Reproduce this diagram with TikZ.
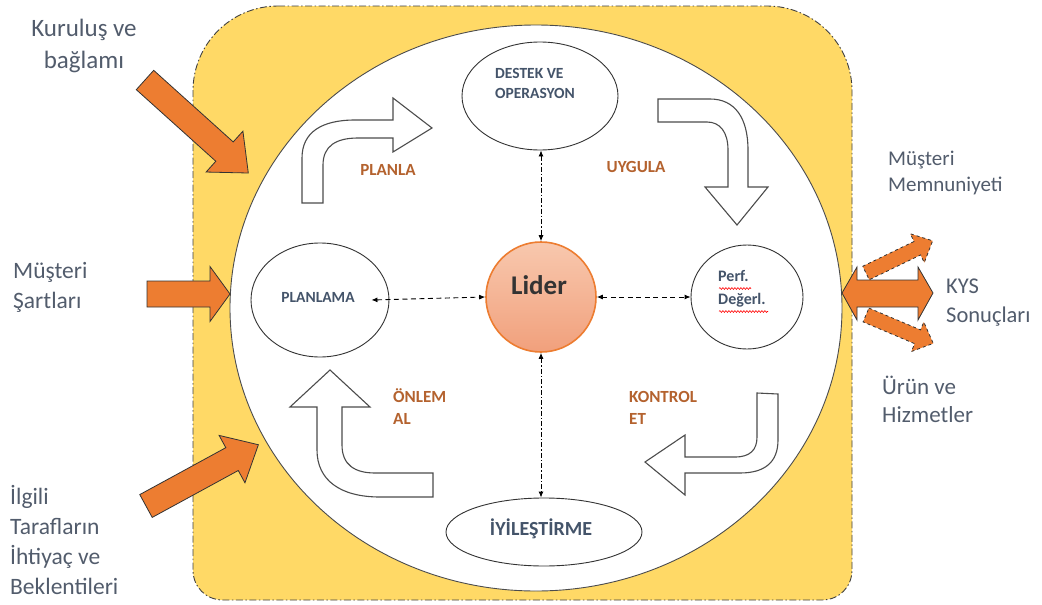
\documentclass[tikz,border=0pt]{standalone}
\usepackage{fontspec}
\setmainfont{Carlito}
\usetikzlibrary{shapes.geometric,arrows.meta,decorations.pathmorphing}
\definecolor{gold}{HTML}{FFD966}
\definecolor{orng}{HTML}{ED7D31}
\definecolor{slate}{HTML}{44546A}
\definecolor{slatel}{HTML}{525C6C}
\definecolor{brwn}{HTML}{B4622E}
\definecolor{lidtop}{HTML}{F8C8AE}
\definecolor{lidbot}{HTML}{F1A07C}
\newcommand{\blockarr}[5]{%
\draw[#1] (0,{-#3/2}) -- ({#2-#4},{-#3/2}) -- ({#2-#4},{-#5/2}) -- (#2,0) -- ({#2-#4},{#5/2}) -- ({#2-#4},{#3/2}) -- (0,{#3/2}) -- cycle;}
\tikzset{
  ybox/.style={fill=gold, draw=black!75, line width=0.9pt, dash pattern=on 7pt off 2.5pt on 1.5pt off 2.5pt},
  bigc/.style={ellipse, fill=white, draw=black!70, line width=0.9pt, inner sep=0pt},
  ell/.style={ellipse, fill=white, draw=black!80, line width=0.9pt, inner sep=0pt},
  whitearr/.style={fill=white, draw=black!70, line width=1.1pt, line join=miter},
  orarr/.style={fill=orng, draw=black!80, line width=0.8pt, line join=miter},
  orarrd/.style={fill=orng, draw=black!80, line width=0.8pt, dashed, line join=miter},
  conn/.style={black, line width=0.9pt, {Latex[length=6pt,width=5pt]}-{Latex[length=6pt,width=5pt]}},
  vconn/.style={conn, dash pattern=on 5pt off 2pt on 1.5pt off 2pt},
  hconn/.style={conn, dash pattern=on 5pt off 3.5pt},
  intext/.style={text=slate, font=\bfseries\fontsize{15.5}{20}\selectfont, align=left, inner sep=0pt},
  brtext/.style={text=brwn, font=\bfseries\fontsize{17}{22}\selectfont, align=left, inner sep=0pt},
  outtext/.style={text=slatel, align=left, inner sep=0pt},
}
\begin{document}
\begin{tikzpicture}[x=1pt,y=-1pt]
\useasboundingbox (0,0) rectangle (1042,605);
% yellow rounded box
\draw[ybox] (278,6) -- (767,6) .. controls (814,6) and (852,44) .. (852,91) -- (852,570) .. controls (852,587) and (839,600) .. (822,600) -- (223,600) .. controls (206,600) and (193,587) .. (193,570) -- (193,91) .. controls (193,44) and (231,6) .. (278,6) -- cycle;
% big circle
\node[bigc, minimum width=612pt, minimum height=566pt] (big) at (536,308) {};
% inner nodes
\node[ell, minimum width=156pt, minimum height=108pt] (destek) at (540,96) {};
\node[ell, minimum width=138pt, minimum height=114pt] (planlama) at (320,300) {};
\node[ell, minimum width=112pt, minimum height=104pt] (perf) at (747,297) {};
\node[ell, minimum width=196pt, minimum height=68pt] (iyi) at (544,532) {};
\node[circle, minimum size=110pt, inner sep=0pt, draw=orng, line width=1.6pt, top color=lidtop, bottom color=lidbot] (lider) at (541,297) {};
% texts of inner nodes
\node[intext, anchor=west] (destekt) at (495,83) {DESTEK VE\\OPERASYON};
\node[intext] (planlamat) at (318,297) {PLANLAMA};
\node[intext, anchor=west, font=\bfseries\fontsize{16}{23}\selectfont] (perft) at (718,289) {Perf.\\Değerl.};
\node[intext, font=\bfseries\fontsize{20}{24}\selectfont] (iyit) at (541,529) {İYİLEŞTİRME};
\node[intext, text=black!80, font=\bfseries\fontsize{27}{30}\selectfont] (lidert) at (539,285) {Lider};
\draw[red, line width=0.6pt, decorate, decoration={snake, amplitude=0.9pt, segment length=3pt}] (719,288.5) -- (751,288.5);
\draw[red, line width=0.6pt, decorate, decoration={snake, amplitude=0.9pt, segment length=3pt}] (719,311.5) -- (768,311.5);
% connectors
\draw[vconn] (destek.south -| lider.north) -- (lider.north);
\draw[vconn] (lider.south) -- (lider.south |- iyi.north);
\draw[hconn] ([xshift=-18pt]planlama.east) -- (lider.west);
\draw[hconn] (lider.east) -- (perf.west);
% brown labels
\node[brtext] (planla) at (388,170) {PLANLA};
\node[brtext] (uygula) at (636,167) {UYGULA};
\node[brtext, anchor=west] (onlem) at (393,407) {ÖNLEM\\AL};
\node[brtext, anchor=west] (kontrol) at (629,408) {KONTROL\\ET};
% white curved arrows
\draw[whitearr] (302,203) -- (302,158) .. controls (302,132) and (322,120) .. (355,120) -- (393,120) -- (393,98) -- (432,128) -- (393,152) -- (393,138) -- (358,138) .. controls (336,138) and (323,146) .. (323,165) -- (323,203) -- cycle;
\draw[whitearr] (658,99) -- (710,99) .. controls (735,99) and (748,118) .. (748,150) -- (748,187) -- (768,187) -- (737,225) -- (705,187) -- (728,187) -- (728,150) .. controls (728,132) and (720,122) .. (707,122) -- (658,122) -- cycle;
\draw[whitearr] (757,393) -- (778,394) -- (778,440) .. controls (778,462) and (765,473) .. (740,473) -- (685,473) -- (685,495) -- (645,462) -- (685,435) -- (685,457) -- (735,457) .. controls (750,457) and (757,450) .. (757,437) -- cycle;
\draw[whitearr] (433,473) -- (433,497) -- (380,497) .. controls (340,497) and (317,480) .. (317,450) -- (317,407) -- (290,407) -- (330,370) -- (370,407) -- (342,407) -- (342,445) .. controls (342,465) and (355,473) .. (375,473) -- cycle;
% orange arrows left
\begin{scope}[shift={(145,80)}, rotate=-42]
\blockarr{orarr}{139}{26}{32}{55}
\end{scope}
\begin{scope}[shift={(147,294)}]
\blockarr{orarr}{83}{26}{20}{55}
\end{scope}
\begin{scope}[shift={(146,506)}, rotate=28.6]
\blockarr{orarr}{128}{26}{30}{54}
\end{scope}
% orange arrows right
\begin{scope}[shift={(866,273)}, rotate=25.8]
\blockarr{orarrd}{74}{15}{17}{32}
\end{scope}
\begin{scope}[shift={(866,315)}, rotate=-22.9]
\blockarr{orarrd}{73}{15}{17}{32}
\end{scope}
\draw[orarr] (842,293) -- (857,267) -- (857,280) -- (918,280) -- (918,267) -- (933,293) -- (918,320) -- (918,307) -- (857,307) -- (857,320) -- cycle;
% outer texts
\node[outtext, align=center, font=\fontsize{25}{32}\selectfont] (kurulus) at (84,46) {Kuruluş ve\\bağlamı};
\node[outtext, anchor=west, font=\fontsize{23.5}{30}\selectfont] (sartlar) at (13,287) {Müşteri\\Şartları};
\node[outtext, anchor=west, font=\fontsize{23.5}{30}\selectfont] (ilgili) at (10,540) {İlgili\\Tarafların\\İhtiyaç ve\\Beklentileri};
\node[outtext, anchor=west, font=\fontsize{21}{26}\selectfont] (memnun) at (888,173) {Müşteri\\Memnuniyeti};
\node[outtext, anchor=west, font=\fontsize{22.5}{29}\selectfont] (kys) at (946,303) {KYS\\Sonuçları};
\node[outtext, anchor=west, font=\fontsize{23}{28}\selectfont] (urun) at (882,399) {Ürün ve\\Hizmetler};
\end{tikzpicture}
\end{document}
